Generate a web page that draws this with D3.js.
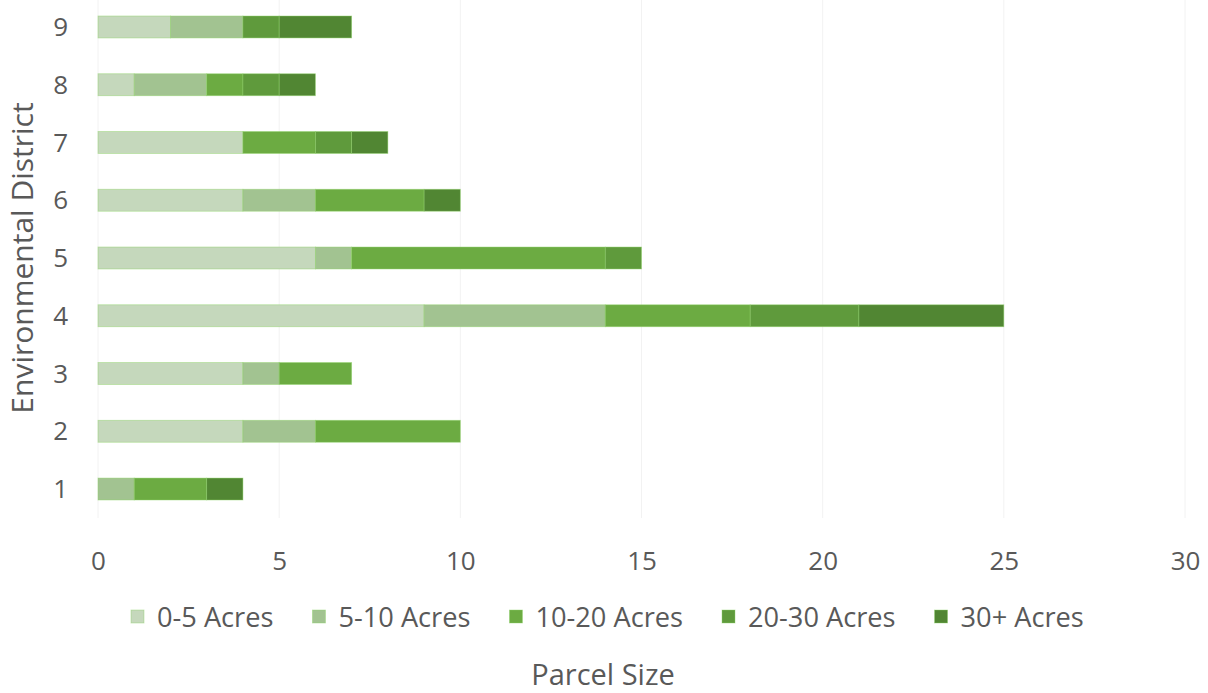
<!DOCTYPE html>
<html>
<head>
<meta charset="utf-8">
<script src="https://cdn.jsdelivr.net/npm/d3@7"></script>
<style>
  html, body { margin: 0; padding: 0; background: #fff; }
  svg { display: block; font-family: "Open Sans", "Noto Sans", sans-serif; }
</style>
</head>
<body>
<svg id="chart" width="1208" height="693"></svg>
<script>
// Parcel counts per environmental district, split by parcel size class
const districts = ["1", "2", "3", "4", "5", "6", "7", "8", "9"];
const sizeClasses = ["0-5 Acres", "5-10 Acres", "10-20 Acres", "20-30 Acres", "30+ Acres"];
const acres0to5   = [0, 4, 4, 9, 6, 4, 4, 1, 2];
const acres5to10  = [1, 2, 1, 5, 1, 2, 0, 2, 2];
const acres10to20 = [2, 4, 2, 4, 7, 3, 2, 1, 0];
const acres20to30 = [0, 0, 0, 3, 1, 0, 1, 1, 1];
const acres30plus = [1, 0, 0, 4, 0, 1, 1, 1, 2];
const xTicks = [0, 5, 10, 15, 20, 25, 30];
const colors = ["#c5d8bc", "#a2c391", "#6cab42", "#5f9a3c", "#518633"];

const seriesValues = [acres0to5, acres5to10, acres10to20, acres20to30, acres30plus];
const rows = districts.map((d, i) => {
  const r = { district: d };
  sizeClasses.forEach((k, j) => { r[k] = seriesValues[j][i]; });
  return r;
});

const svg = d3.select("#chart");
const textColor = "#595959";

const x = d3.scaleLinear().domain([0, 30]).range([98, 1185]);
const y = d3.scaleBand()
  .domain(districts.slice().reverse())
  .range([-1.9, 517.9])
  .paddingInner(0.62)
  .paddingOuter(0.31);

// vertical gridlines
svg.append("g")
  .selectAll("line")
  .data(xTicks)
  .join("line")
  .attr("x1", d => x(d)).attr("x2", d => x(d))
  .attr("y1", 0).attr("y2", 518)
  .attr("stroke", "#f2f2f2")
  .attr("stroke-width", 1);

// stacked bars
const stacked = d3.stack().keys(sizeClasses)(rows);
svg.append("g")
  .selectAll("g")
  .data(stacked)
  .join("g")
  .attr("fill", (d, i) => colors[i])
  .selectAll("rect")
  .data(d => d.filter(s => s[1] - s[0] > 0))
  .join("rect")
  .attr("x", d => x(d[0]))
  .attr("width", d => x(d[1]) - x(d[0]))
  .attr("y", d => y(d.data.district))
  .attr("height", y.bandwidth())
  .attr("stroke", "#8fd46a")
  .attr("stroke-opacity", 0.55)
  .attr("stroke-width", 0.8);

// x axis labels
const xAxis = svg.append("g")
  .attr("transform", "translate(0,518)")
  .call(d3.axisBottom(x).tickValues(xTicks).tickSize(0).tickPadding(0));
xAxis.select(".domain").remove();
xAxis.selectAll("text")
  .attr("y", 52)
  .attr("dy", 0)
  .attr("fill", textColor)
  .style("font-size", "26px")
  .style("font-family", "'Open Sans', sans-serif");

// y axis labels
const yAxis = svg.append("g")
  .attr("transform", "translate(68,0)")
  .call(d3.axisLeft(y).tickSize(0).tickPadding(0));
yAxis.select(".domain").remove();
yAxis.selectAll("text")
  .attr("fill", textColor)
  .attr("dy", "0.35em")
  .style("font-size", "26px")
  .style("font-family", "'Open Sans', sans-serif");

// axis titles
svg.append("text")
  .attr("transform", "translate(33,258) rotate(-90)")
  .attr("text-anchor", "middle")
  .attr("fill", textColor)
  .style("font-size", "30px")
  .text("Environmental District");

svg.append("text")
  .attr("x", 603)
  .attr("y", 685)
  .attr("text-anchor", "middle")
  .attr("fill", textColor)
  .style("font-size", "29px")
  .text("Parcel Size");

// legend
const legend = svg.append("g");
let cursor = 131;
sizeClasses.forEach((name, i) => {
  legend.append("rect")
    .attr("x", cursor).attr("y", 610)
    .attr("width", 13).attr("height", 13)
    .attr("fill", colors[i])
    .attr("stroke", "#8fd46a").attr("stroke-opacity", 0.5).attr("stroke-width", 0.8);
  const t = legend.append("text")
    .attr("x", cursor + 26).attr("y", 627)
    .attr("fill", textColor)
    .style("font-size", "27.2px")
    .text(name);
  cursor += 26 + t.node().getComputedTextLength() + 39;
});
</script>
</body>
</html>
